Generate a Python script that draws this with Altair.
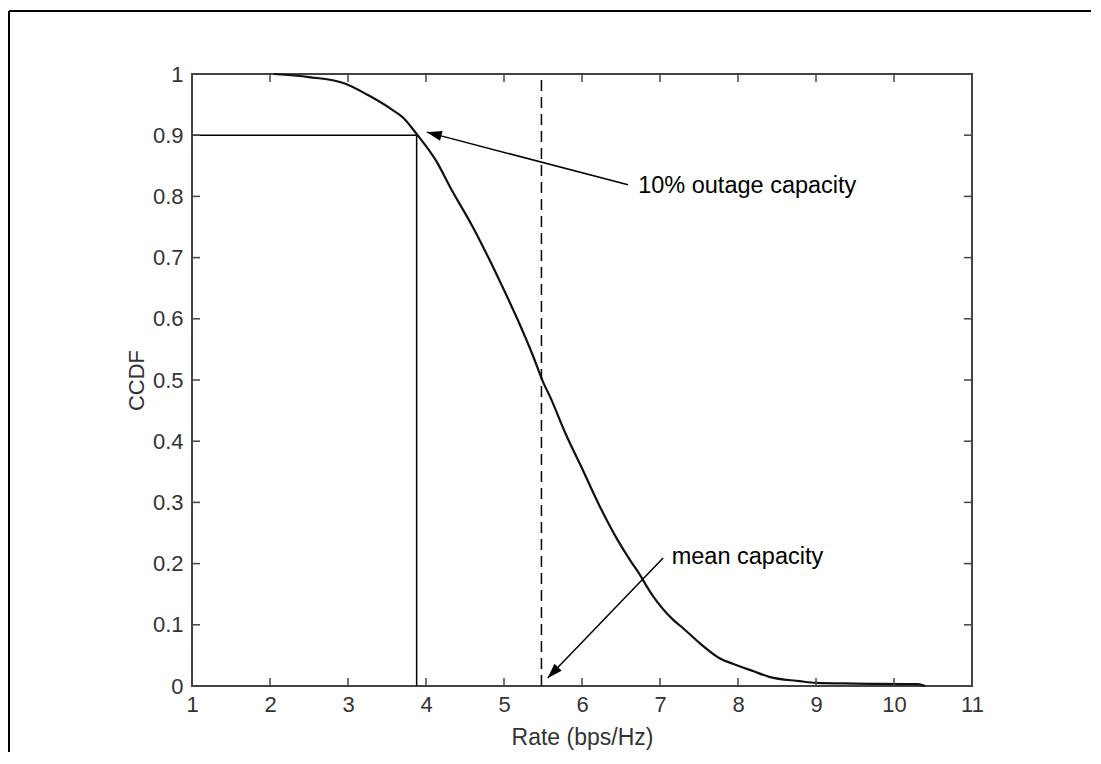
import math
import altair as alt
import pandas as pd

# ---- data ----
rate = [2.05, 2.5, 2.95, 3.25, 3.55, 3.72, 3.88, 4.14, 4.31, 4.6, 4.8, 4.97,
        5.17, 5.37, 5.5, 5.6, 5.78, 6.01, 6.23, 6.45, 6.62, 6.7, 6.91, 7.17,
        7.3, 7.51, 7.77, 7.94, 8.2, 8.4, 8.79, 9.0, 9.5, 10.3, 10.4]
ccdf = [1.0, 0.995, 0.985, 0.966, 0.943, 0.927, 0.902, 0.856, 0.815, 0.75,
        0.70, 0.655, 0.60, 0.54, 0.497, 0.47, 0.415, 0.353, 0.293, 0.24,
        0.205, 0.19, 0.147, 0.108, 0.094, 0.07, 0.045, 0.036, 0.024, 0.015,
        0.008, 0.005, 0.004, 0.003, 0.0]

x_ticks = list(range(1, 12))
y_ticks = [0, 0.1, 0.2, 0.3, 0.4, 0.5, 0.6, 0.7, 0.8, 0.9, 1]

outage_rate = 3.88
outage_level = 0.9
mean_rate = 5.48

ann_labels = ["10% outage capacity", "mean capacity"]
ann_tip_x = [4.01, 5.56]
ann_tip_y = [0.905, 0.013]
ann_tail_x = [6.59, 7.04]
ann_tail_y = [0.819, 0.209]
ann_text_x = [6.72, 7.15]
ann_text_y = [0.817, 0.211]

# ---- layout ----
W, H = 780, 612
PAD_L, PAD_T, PAD_R, PAD_B = 184, 66, 119, 66
FONT = "Liberation Sans"
TICK = 8

xs = alt.Scale(domain=[1, 11], nice=False, zero=False)
ys = alt.Scale(domain=[0, 1], nice=False, zero=False)

curve_df = pd.DataFrame({"rate": rate, "ccdf": ccdf})

x_axis = alt.Axis(values=x_ticks, format="d", domain=False, ticks=False,
                  grid=False, labelPadding=8, labelFontSize=22,
                  labelColor="#333", labelFont=FONT, labelFlush=False,
                  title="Rate (bps/Hz)", titleFont=FONT, titleFontSize=23,
                  titleFontWeight="normal", titleColor="#333",
                  titleY=51, titleBaseline="middle")
y_axis = alt.Axis(values=y_ticks, format="~g", domain=False, ticks=False,
                  grid=False, labelPadding=9, labelFontSize=22,
                  labelColor="#333", labelFont=FONT, labelFlush=False,
                  title="CCDF", titleFont=FONT, titleFontSize=22,
                  titleFontWeight="normal", titleColor="#333",
                  titleX=-56, titleY=H / 2, titleAngle=270,
                  titleBaseline="middle", titleAlign="center")

curve = alt.Chart(curve_df).mark_line(color="#111", strokeWidth=2.2,
                                      interpolate="monotone").encode(
    x=alt.X("rate:Q", scale=xs, axis=x_axis),
    y=alt.Y("ccdf:Q", scale=ys, axis=y_axis),
    order="rate:Q",
)

ref_df = pd.DataFrame({"r": [outage_rate], "l": [outage_level],
                       "x0": [1], "y0": [0]})
vline = alt.Chart(ref_df).mark_rule(color="black", strokeWidth=1.5).encode(
    x=alt.X("r:Q", scale=xs), y=alt.Y("y0:Q", scale=ys), y2="l:Q")
hline = alt.Chart(ref_df).mark_rule(color="black", strokeWidth=1.5).encode(
    y=alt.Y("l:Q", scale=ys), x=alt.X("x0:Q", scale=xs), x2="r:Q")

mean_df = pd.DataFrame({"m": [mean_rate], "y0": [0], "y1": [1]})
mline = alt.Chart(mean_df).mark_rule(color="black", strokeWidth=1.5,
                                     strokeDash=[11, 6]).encode(
    x=alt.X("m:Q", scale=xs), y=alt.Y("y0:Q", scale=ys), y2="y1:Q")

# annotations
angles = []
for tx, ty, sx, sy in zip(ann_tip_x, ann_tip_y, ann_tail_x, ann_tail_y):
    dx = (tx - sx) * W / 10.0
    dy = -(ty - sy) * H
    angles.append(math.degrees(math.atan2(dx, -dy)) % 360)

ann_df = pd.DataFrame({"label": ann_labels, "tx": ann_tip_x, "ty": ann_tip_y,
                       "sx": ann_tail_x, "sy": ann_tail_y,
                       "lx": ann_text_x, "ly": ann_text_y, "ang": angles})

arrow_lines = alt.Chart(ann_df).mark_rule(color="black", strokeWidth=1.5).encode(
    x=alt.X("sx:Q", scale=xs), y=alt.Y("sy:Q", scale=ys),
    x2="tx:Q", y2="ty:Q")
arrow_heads = alt.Chart(ann_df).mark_point(
    shape="M0,0 L0.67,2 L-0.67,2 Z", size=225, filled=True,
    color="black", opacity=1, strokeWidth=0).encode(
    x=alt.X("tx:Q", scale=xs), y=alt.Y("ty:Q", scale=ys),
    angle=alt.Angle("ang:Q", scale=None))
ann_text = alt.Chart(ann_df).mark_text(
    align="left", baseline="middle", font=FONT, fontSize=23.5,
    color="black").encode(
    x=alt.X("lx:Q", scale=xs), y=alt.Y("ly:Q", scale=ys), text="label:N")

# inward ticks on all four sides
xt_df = pd.DataFrame({"v": x_ticks})
yt_df = pd.DataFrame({"v": y_ticks})
tick_style = dict(color="#444", strokeWidth=1.5)
xt_bottom = alt.Chart(xt_df).mark_rule(**tick_style).encode(
    x=alt.X("v:Q", scale=xs), y=alt.value(H), y2=alt.value(H - TICK))
xt_top = alt.Chart(xt_df).mark_rule(**tick_style).encode(
    x=alt.X("v:Q", scale=xs), y=alt.value(0), y2=alt.value(TICK))
yt_left = alt.Chart(yt_df).mark_rule(**tick_style).encode(
    y=alt.Y("v:Q", scale=ys), x=alt.value(0), x2=alt.value(TICK))
yt_right = alt.Chart(yt_df).mark_rule(**tick_style).encode(
    y=alt.Y("v:Q", scale=ys), x=alt.value(W - TICK), x2=alt.value(W))

# outer figure frame (left and top edges)
one = pd.DataFrame({"k": [0]})
frame_left = alt.Chart(one).mark_rule(color="black", strokeWidth=2).encode(
    x=alt.value(-PAD_L + 1), y=alt.value(-PAD_T + 3),
    y2=alt.value(H + PAD_B))
frame_top = alt.Chart(one).mark_rule(color="black", strokeWidth=2).encode(
    y=alt.value(-PAD_T + 3), x=alt.value(-PAD_L + 1),
    x2=alt.value(W + PAD_R))

chart = alt.layer(
    frame_left, frame_top,
    vline, hline, mline,
    curve,
    arrow_lines, arrow_heads, ann_text,
    xt_bottom, xt_top, yt_left, yt_right,
).properties(
    width=W, height=H,
    autosize=alt.AutoSizeParams(type="none"),
    padding={"left": PAD_L, "top": PAD_T, "right": PAD_R, "bottom": PAD_B},
    background="white",
).configure_view(
    stroke="#444", strokeWidth=2,
)

chart.save("out.html", embed_options={"renderer": "svg", "actions": False})
